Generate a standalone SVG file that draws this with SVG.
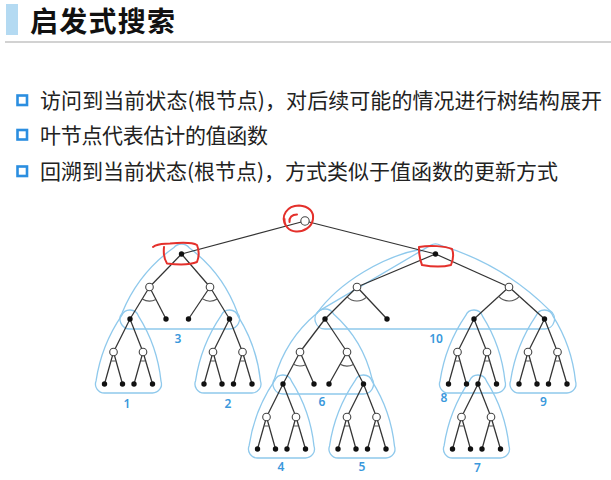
<svg xmlns="http://www.w3.org/2000/svg" xmlns:xlink="http://www.w3.org/1999/xlink" width="611" height="480" viewBox="0 0 611 480">
<style>
.e{stroke:#333;stroke-width:1.25;fill:none}
.arc{stroke:#555;stroke-width:1.1;fill:none}
.b{fill:#111}
.w{fill:#fff;stroke:#444;stroke-width:1.1}
.ol{fill:none;stroke:#8fc9ec;stroke-width:1.3}
.lbl{font-family:"Noto Sans","Liberation Sans",sans-serif;font-size:12px;font-weight:600;fill:#3a98dc;text-anchor:middle}
.red{fill:none;stroke:#e4302b;stroke-width:2;stroke-linecap:round;stroke-linejoin:round}
.bt{font-family:"Noto Sans CJK SC","Noto Sans",sans-serif;font-size:21px;fill:#222}
.sq{fill:#fff;stroke:#2b8ee0;stroke-width:2.6}
</style>
<defs>
<path id="tri" d="M -8.4,-3.3 A 9 9 0 0 1 8.5,-2.9 Q 27.3,26.9 31,62.1 A 9 9 0 0 1 22.5,74 L -25.5,74 A 9 9 0 0 1 -33.9,61.7 Q -28.6,26.3 -8.4,-3.3 Z"/>
</defs>
<rect width="611" height="480" fill="#fff"/>

<g id="header">
<rect x="6" y="4" width="12" height="31" fill="#b4daf2"/>
<text x="30" y="31.5" font-family="Noto Sans CJK SC, Noto Sans, sans-serif" font-size="28" font-weight="700" fill="#111" textLength="145" lengthAdjust="spacing">启发式搜索</text>
<line x1="5" y1="42" x2="611" y2="42" stroke="#d2d2d2" stroke-width="2"/>
</g>

<g id="bullets">
<rect class="sq" x="17.5" y="95.5" width="9.5" height="9.5"/>
<text class="bt" x="40" y="108" textLength="562" lengthAdjust="spacing">访问到当前状态(根节点)，对后续可能的情况进行树结构展开</text>
<rect class="sq" x="17.5" y="130" width="9.5" height="9.5"/>
<text class="bt" x="40" y="142.5" textLength="228" lengthAdjust="spacing">叶节点代表估计的值函数</text>
<rect class="sq" x="17.5" y="166.5" width="9.5" height="9.5"/>
<text class="bt" x="40" y="179" textLength="518" lengthAdjust="spacing">回溯到当前状态(根节点)，方式类似于值函数的更新方式</text>
</g>

<g id="outlines">
<use href="#tri" class="ol" transform="translate(130,319)"/>
<use href="#tri" class="ol" transform="translate(229.5,319)"/>
<use href="#tri" class="ol" transform="translate(283,384)"/>
<use href="#tri" class="ol" transform="translate(363.5,384)"/>
<use href="#tri" class="ol" transform="translate(478,384)"/>
<use href="#tri" class="ol" transform="translate(474,319)"/>
<use href="#tri" class="ol" transform="translate(544.5,319)"/>
<path class="ol" transform="translate(181.5,254)" d="M -7.84,-6.21 A 10 10 0 0 1 8.04,-5.94 Q 41.7,19.4 56.04,59.06 A 10 10 0 0 1 48,75 L -51.5,75 A 10 10 0 0 1 -59.34,58.79 Q -43,18.8 -7.84,-6.21 Z"/>
<path class="ol" transform="translate(325,319)" d="M -8.4,-5.43 A 10 10 0 0 1 8.6,-5.1 Q 38.17,21.28 47.1,59.9 A 10 10 0 0 1 38.5,75 L -42,75 A 10 10 0 0 1 -50.4,59.57 Q -39.48,20.56 -8.4,-5.43 Z"/>
<path class="ol" transform="translate(435.5,254)" d="M -5.07,-8.62 A 10 10 0 0 1 5.12,-8.59 Q 67.8,10.2 114.12,56.41 A 10 10 0 0 1 109,75 L -110.5,75 A 10 10 0 0 1 -115.57,56.38 L -5.07,-8.62 Z"/>
<path class="ol" d="M 420,249.5 C 385,256 340,281 316.6,313.6"/>
</g>

<g id="connectors">
<line class="e" x1="305" y1="221" x2="181.5" y2="254"/>
<line class="e" x1="305" y1="221" x2="435.5" y2="254"/>
<line class="e" x1="181.5" y1="254" x2="149.5" y2="287"/>
<line class="e" x1="181.5" y1="254" x2="210" y2="287"/>
<line class="e" x1="149.5" y1="287" x2="130" y2="319"/>
<line class="e" x1="149.5" y1="287" x2="166" y2="319"/>
<line class="e" x1="210" y1="287" x2="188.5" y2="319"/>
<line class="e" x1="210" y1="287" x2="229.5" y2="319"/>
<line class="e" x1="435.5" y1="254" x2="357" y2="287"/>
<line class="e" x1="435.5" y1="254" x2="509" y2="287"/>
<line class="e" x1="357" y1="287" x2="325" y2="319"/>
<line class="e" x1="357" y1="287" x2="387" y2="319"/>
<line class="e" x1="509" y1="287" x2="474" y2="319"/>
<line class="e" x1="509" y1="287" x2="544.5" y2="319"/>
<line class="e" x1="325" y1="319" x2="300" y2="352"/>
<line class="e" x1="325" y1="319" x2="347" y2="352"/>
<line class="e" x1="300" y1="352" x2="283" y2="384"/>
<line class="e" x1="300" y1="352" x2="314" y2="384"/>
<line class="e" x1="347" y1="352" x2="329" y2="384"/>
<line class="e" x1="347" y1="352" x2="363.5" y2="384"/>
<!-- S1 -->
<line class="e" x1="130" y1="319" x2="113.5" y2="352"/>
<line class="e" x1="130" y1="319" x2="143" y2="352"/>
<line class="e" x1="113.5" y1="352" x2="104.5" y2="384"/>
<line class="e" x1="113.5" y1="352" x2="122.5" y2="384"/>
<line class="e" x1="143" y1="352" x2="134" y2="384"/>
<line class="e" x1="143" y1="352" x2="152.5" y2="384"/>
<!-- S2 -->
<line class="e" x1="229.5" y1="319" x2="213" y2="352"/>
<line class="e" x1="229.5" y1="319" x2="242.5" y2="352"/>
<line class="e" x1="213" y1="352" x2="204" y2="384"/>
<line class="e" x1="213" y1="352" x2="222" y2="384"/>
<line class="e" x1="242.5" y1="352" x2="233.5" y2="384"/>
<line class="e" x1="242.5" y1="352" x2="252" y2="384"/>
<!-- S4 -->
<line class="e" x1="283" y1="384" x2="266.5" y2="417"/>
<line class="e" x1="283" y1="384" x2="296" y2="417"/>
<line class="e" x1="266.5" y1="417" x2="257.5" y2="449"/>
<line class="e" x1="266.5" y1="417" x2="275.5" y2="449"/>
<line class="e" x1="296" y1="417" x2="287" y2="449"/>
<line class="e" x1="296" y1="417" x2="305.5" y2="449"/>
<!-- S5 -->
<line class="e" x1="363.5" y1="384" x2="347" y2="417"/>
<line class="e" x1="363.5" y1="384" x2="376.5" y2="417"/>
<line class="e" x1="347" y1="417" x2="338" y2="449"/>
<line class="e" x1="347" y1="417" x2="356" y2="449"/>
<line class="e" x1="376.5" y1="417" x2="367.5" y2="449"/>
<line class="e" x1="376.5" y1="417" x2="386" y2="449"/>
<!-- S8 -->
<line class="e" x1="474" y1="319" x2="457.5" y2="352"/>
<line class="e" x1="474" y1="319" x2="487" y2="352"/>
<line class="e" x1="457.5" y1="352" x2="448.5" y2="384"/>
<line class="e" x1="457.5" y1="352" x2="466.5" y2="384"/>
<line class="e" x1="487" y1="352" x2="478" y2="384"/>
<line class="e" x1="487" y1="352" x2="496.5" y2="384"/>
<!-- S7 -->
<line class="e" x1="478" y1="384" x2="461.5" y2="417"/>
<line class="e" x1="478" y1="384" x2="491" y2="417"/>
<line class="e" x1="461.5" y1="417" x2="452.5" y2="449"/>
<line class="e" x1="461.5" y1="417" x2="470.5" y2="449"/>
<line class="e" x1="491" y1="417" x2="482" y2="449"/>
<line class="e" x1="491" y1="417" x2="500.5" y2="449"/>
<!-- S9 -->
<line class="e" x1="544.5" y1="319" x2="528" y2="352"/>
<line class="e" x1="544.5" y1="319" x2="557.5" y2="352"/>
<line class="e" x1="528" y1="352" x2="519" y2="384"/>
<line class="e" x1="528" y1="352" x2="537" y2="384"/>
<line class="e" x1="557.5" y1="352" x2="548.5" y2="384"/>
<line class="e" x1="557.5" y1="352" x2="567" y2="384"/>
<!-- arcs -->
<path class="arc" d="M 142.22,298.96 A 14 14 0 0 0 155.91,299.45"/>
<path class="arc" d="M 202.19,298.62 A 14 14 0 0 0 217.28,298.96"/>
<path class="arc" d="M 347.1,296.9 A 14 14 0 0 0 366.58,297.22"/>
<path class="arc" d="M 498.67,296.45 A 14 14 0 0 0 519.4,296.38"/>
<path class="arc" d="M 293.43,364.36 A 14 14 0 0 0 305.61,364.82"/>
<path class="arc" d="M 340.14,364.21 A 14 14 0 0 0 353.41,364.45"/>
<path class="arc" d="M 111.1,360.7 A 9 9 0 0 0 115.9,360.7 M 140.6,360.7 A 9 9 0 0 0 145.4,360.7"/>
<path class="arc" d="M 210.6,360.7 A 9 9 0 0 0 215.4,360.7 M 240.1,360.7 A 9 9 0 0 0 244.9,360.7"/>
<path class="arc" d="M 264.1,425.7 A 9 9 0 0 0 268.9,425.7 M 293.6,425.7 A 9 9 0 0 0 298.4,425.7"/>
<path class="arc" d="M 344.6,425.7 A 9 9 0 0 0 349.4,425.7 M 374.1,425.7 A 9 9 0 0 0 378.9,425.7"/>
<path class="arc" d="M 455.1,360.7 A 9 9 0 0 0 459.9,360.7 M 484.6,360.7 A 9 9 0 0 0 489.4,360.7"/>
<path class="arc" d="M 459.1,425.7 A 9 9 0 0 0 463.9,425.7 M 488.6,425.7 A 9 9 0 0 0 493.4,425.7"/>
<path class="arc" d="M 525.6,360.7 A 9 9 0 0 0 530.4,360.7 M 555.1,360.7 A 9 9 0 0 0 559.9,360.7"/>
</g>

<g id="nodes">
<g id="root"><circle class="w" cx="305" cy="221" r="4.2"/></g>
<g id="nA"><circle class="b" cx="181.5" cy="254" r="2.7"/></g>
<g id="nB"><circle class="b" cx="435.5" cy="254" r="2.7"/></g>
<g id="wa1"><circle class="w" cx="149.5" cy="287" r="3.8"/></g>
<g id="wa2"><circle class="w" cx="210" cy="287" r="3.8"/></g>
<g id="a1"><circle class="b" cx="130" cy="319" r="2.7"/></g>
<g id="a2"><circle class="b" cx="166" cy="319" r="2.7"/></g>
<g id="a3"><circle class="b" cx="188.5" cy="319" r="2.7"/></g>
<g id="a4"><circle class="b" cx="229.5" cy="319" r="2.7"/></g>
<g id="w1"><circle class="w" cx="357" cy="287" r="3.8"/></g>
<g id="w2"><circle class="w" cx="509" cy="287" r="3.8"/></g>
<g id="nC"><circle class="b" cx="325" cy="319" r="2.7"/></g>
<g id="c2"><circle class="b" cx="387" cy="319" r="2.7"/></g>
<g id="nD"><circle class="b" cx="474" cy="319" r="2.7"/></g>
<g id="nE"><circle class="b" cx="544.5" cy="319" r="2.7"/></g>
<g id="cw1"><circle class="w" cx="300" cy="352" r="3.8"/></g>
<g id="cw2"><circle class="w" cx="347" cy="352" r="3.8"/></g>
<g id="nF"><circle class="b" cx="283" cy="384" r="2.7"/></g>
<g id="f2"><circle class="b" cx="314" cy="384" r="2.7"/></g>
<g id="f3"><circle class="b" cx="329" cy="384" r="2.7"/></g>
<g id="nG"><circle class="b" cx="363.5" cy="384" r="2.7"/></g>
<g id="s1w1"><circle class="w" cx="113.5" cy="352" r="3.8"/></g>
<g id="s1w2"><circle class="w" cx="143" cy="352" r="3.8"/></g>
<g id="s1l1"><circle class="b" cx="104.5" cy="384" r="2.7"/></g>
<g id="s1l2"><circle class="b" cx="122.5" cy="384" r="2.7"/></g>
<g id="s1l3"><circle class="b" cx="134" cy="384" r="2.7"/></g>
<g id="s1l4"><circle class="b" cx="152.5" cy="384" r="2.7"/></g>
<g id="s2w1"><circle class="w" cx="213" cy="352" r="3.8"/></g>
<g id="s2w2"><circle class="w" cx="242.5" cy="352" r="3.8"/></g>
<g id="s2l1"><circle class="b" cx="204" cy="384" r="2.7"/></g>
<g id="s2l2"><circle class="b" cx="222" cy="384" r="2.7"/></g>
<g id="s2l3"><circle class="b" cx="233.5" cy="384" r="2.7"/></g>
<g id="s2l4"><circle class="b" cx="252" cy="384" r="2.7"/></g>
<g id="s4w1"><circle class="w" cx="266.5" cy="417" r="3.8"/></g>
<g id="s4w2"><circle class="w" cx="296" cy="417" r="3.8"/></g>
<g id="s4l1"><circle class="b" cx="257.5" cy="449" r="2.7"/></g>
<g id="s4l2"><circle class="b" cx="275.5" cy="449" r="2.7"/></g>
<g id="s4l3"><circle class="b" cx="287" cy="449" r="2.7"/></g>
<g id="s4l4"><circle class="b" cx="305.5" cy="449" r="2.7"/></g>
<g id="s5w1"><circle class="w" cx="347" cy="417" r="3.8"/></g>
<g id="s5w2"><circle class="w" cx="376.5" cy="417" r="3.8"/></g>
<g id="s5l1"><circle class="b" cx="338" cy="449" r="2.7"/></g>
<g id="s5l2"><circle class="b" cx="356" cy="449" r="2.7"/></g>
<g id="s5l3"><circle class="b" cx="367.5" cy="449" r="2.7"/></g>
<g id="s5l4"><circle class="b" cx="386" cy="449" r="2.7"/></g>
<g id="s8w1"><circle class="w" cx="457.5" cy="352" r="3.8"/></g>
<g id="s8w2"><circle class="w" cx="487" cy="352" r="3.8"/></g>
<g id="s8l1"><circle class="b" cx="448.5" cy="384" r="2.7"/></g>
<g id="s8l2"><circle class="b" cx="466.5" cy="384" r="2.7"/></g>
<g id="nH"><circle class="b" cx="478" cy="384" r="2.7"/></g>
<g id="s8l4"><circle class="b" cx="496.5" cy="384" r="2.7"/></g>
<g id="s7w1"><circle class="w" cx="461.5" cy="417" r="3.8"/></g>
<g id="s7w2"><circle class="w" cx="491" cy="417" r="3.8"/></g>
<g id="s7l1"><circle class="b" cx="452.5" cy="449" r="2.7"/></g>
<g id="s7l2"><circle class="b" cx="470.5" cy="449" r="2.7"/></g>
<g id="s7l3"><circle class="b" cx="482" cy="449" r="2.7"/></g>
<g id="s7l4"><circle class="b" cx="500.5" cy="449" r="2.7"/></g>
<g id="s9w1"><circle class="w" cx="528" cy="352" r="3.8"/></g>
<g id="s9w2"><circle class="w" cx="557.5" cy="352" r="3.8"/></g>
<g id="s9l1"><circle class="b" cx="519" cy="384" r="2.7"/></g>
<g id="s9l2"><circle class="b" cx="537" cy="384" r="2.7"/></g>
<g id="s9l3"><circle class="b" cx="548.5" cy="384" r="2.7"/></g>
<g id="s9l4"><circle class="b" cx="567" cy="384" r="2.7"/></g>
</g>

<g id="labels">
<text class="lbl" x="127" y="407.5">1</text>
<text class="lbl" x="228" y="407.5">2</text>
<text class="lbl" x="178" y="342.5">3</text>
<text class="lbl" x="281" y="470.5">4</text>
<text class="lbl" x="362" y="470.5">5</text>
<text class="lbl" x="322" y="405.5">6</text>
<text class="lbl" x="477.5" y="471.5">7</text>
<text class="lbl" x="444" y="401.5">8</text>
<text class="lbl" x="543.5" y="405.5">9</text>
<text class="lbl" x="436" y="342.5">10</text>
</g>

<g id="annotations">
<path class="red" d="M 286,226 C 280,216 287,205.5 299,205.5 C 309,206 314,212 313,219 C 312,227 304,232 296,231.5 C 289,231 284,226 284.5,219"/>
<path class="red" d="M 289.5,222 C 289,217.5 292,214.5 297,214.5"/>
<path class="red" d="M 153,247 C 158,243 163,244 170,243.5 C 180,242.5 192,242 197,245 C 199,250 199,257 197,262 C 190,265 176,264.5 167,263.5 C 164,259 163.5,252 164,247"/>
<path class="red" d="M 419,247 C 430,245 445,246 452,249 C 454,254 453,260 451,265 C 442,267.5 430,266.5 422,265 C 419.5,259 419,252 419,247 Z"/>
</g>
</svg>
